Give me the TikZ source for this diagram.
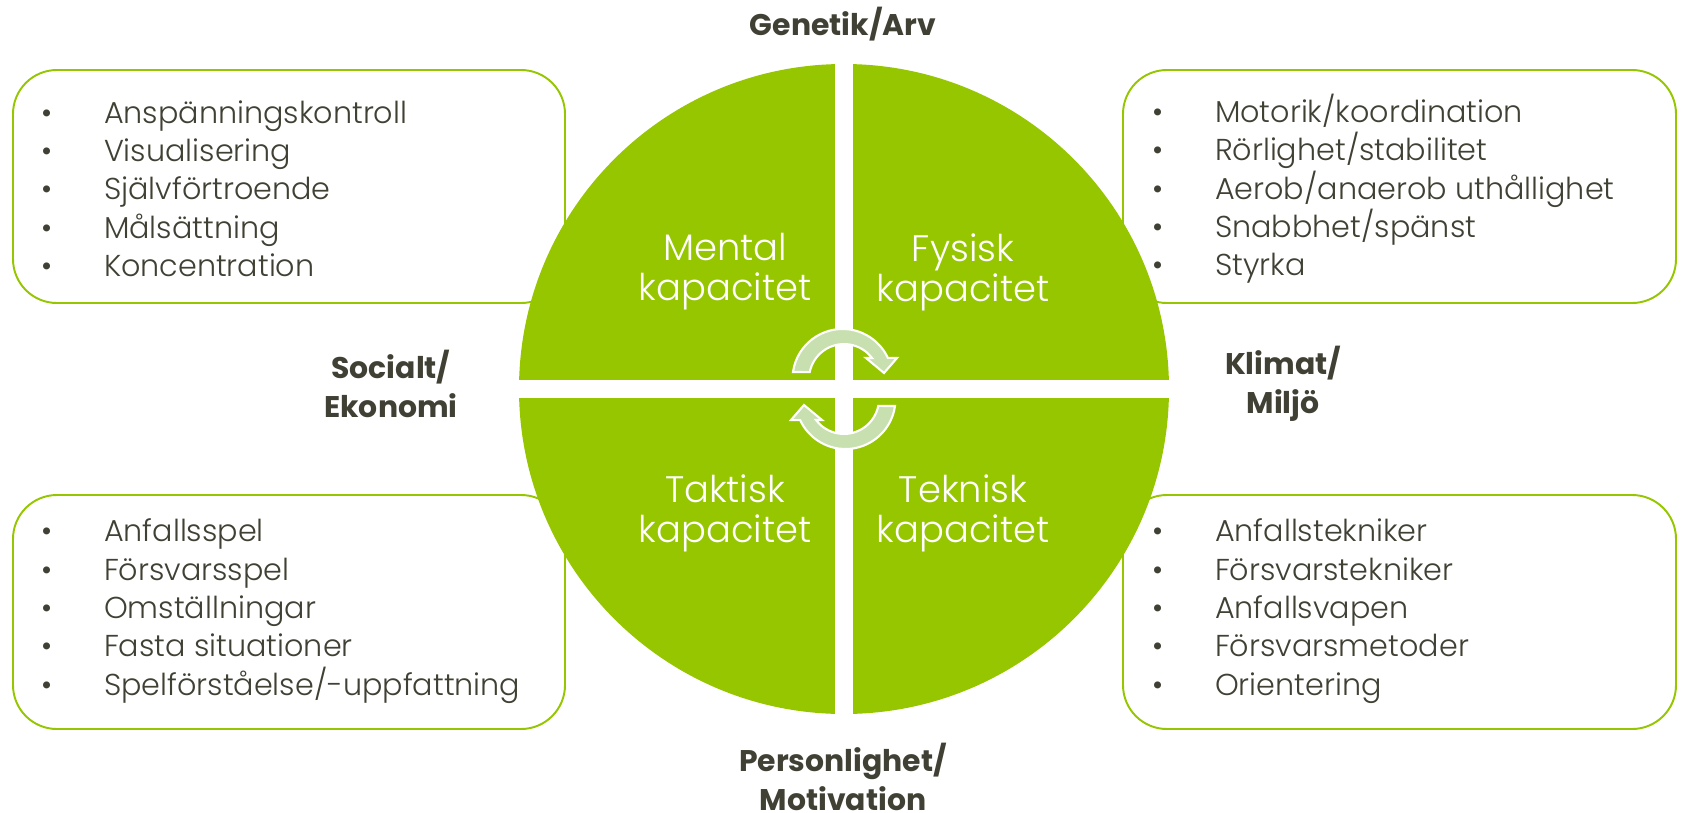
\documentclass[tikz,border=0pt]{standalone}
\usepackage{fontspec}
\setmainfont{Poppins}
\newfontfamily\lightfont{Poppins Light}
\setlength{\lineskiplimit}{-20pt}
\definecolor{kgreen}{RGB}{149,198,0}
\definecolor{kpale}{RGB}{200,224,176}
\definecolor{ktext}{RGB}{64,64,52}
\tikzset{
  listbox/.style={draw=kgreen, line width=1.1pt, fill=white, rounded corners=25pt},
  listtext/.style={anchor=west, align=left, inner sep=0pt, text=ktext, font=\lightfont\fontsize{17.2}{21.8}\selectfont},
  quadtext/.style={align=center, inner sep=0pt, text=white, font=\lightfont\fontsize{21}{22.7}\selectfont},
  factor/.style={align=center, inner sep=0pt, text=ktext, font=\bfseries\fontsize{17}{22.5}\selectfont},
  cyclearrow/.style={fill=kpale, draw=white, line width=1.2pt}
}
\newcommand{\itm}[1]{\makebox[35.7pt][l]{\textbullet}#1}
\begin{document}
\begin{tikzpicture}[x=0.02cm, y=-0.02cm]
  \useasboundingbox (0,0) rectangle (1681,812);
  % Boxes
  \draw[listbox] (13,70) rectangle (565,303);
  \draw[listbox] (1123,70) rectangle (1676,303);
  \draw[listbox] (13,495) rectangle (565,729);
  \draw[listbox] (1123,495) rectangle (1676,729);
  % Lists
  \node (mentallist) [listtext] at (41,188.7) {\itm{Anspänningskontroll}\\\itm{Visualisering}\\\itm{Självförtroende}\\\itm{Målsättning}\\\itm{Koncentration}};
  \node (fysisklist) [listtext] at (1152,188.7) {\itm{Motorik/koordination}\\\itm{Rörlighet/stabilitet}\\\itm{Aerob/anaerob uthållighet}\\\itm{Snabbhet/spänst}\\\itm{Styrka}};
  \node (taktisklist) [listtext] at (41,611) {\itm{Anfallsspel}\\\itm{Försvarsspel}\\\itm{Omställningar}\\\itm{Fasta situationer}\\\itm{Spelförståelse/-uppfattning}};
  \node (tekniklist) [listtext] at (1152,611) {\itm{Anfallstekniker}\\\itm{Försvarstekniker}\\\itm{Anfallsvapen}\\\itm{Försvarsmetoder}\\\itm{Orientering}};
  % Circle and gaps
  \fill[kgreen] (844,389) circle[radius=325];
  \fill[white] (835,55) rectangle (853,720);
  \fill[white] (510,380) rectangle (1178,398);
  % Quadrants
  \node (mental) [quadtext] at (725,272) {Mental\\kapacitet};
  \node (fysisk) [quadtext] at (963,272) {Fysisk\\kapacitet};
  \node (taktisk) [quadtext] at (725,513.5) {Taktisk\\kapacitet};
  \node (teknisk) [quadtext] at (963,513.5) {Teknisk\\kapacitet};
  % Cycle arrows
  \path[cyclearrow] (793,372) arc[start angle=-172, end angle=-25, radius=50]
    -- (897,358) -- (884,373) -- (866,358) -- (872,358)
    arc[start angle=-37, end angle=-168.5, radius=35] -- cycle;
  \begin{scope}[rotate around={180:(844,389)}]
    \path[cyclearrow] (793,372) arc[start angle=-172, end angle=-25, radius=50]
      -- (897,358) -- (884,373) -- (866,358) -- (872,358)
      arc[start angle=-37, end angle=-168.5, radius=35] -- cycle;
  \end{scope}
  % Factors
  \node (genetik) [factor] at (843,24) {Genetik/Arv};
  \node (socialt) [factor] at (391,384) {Socialt/\\Ekonomi};
  \node (klimat) [factor] at (1283,384) {Klimat/\\Miljö};
  \node (personlighet) [factor] at (843,777) {Personlighet/\\Motivation};
\end{tikzpicture}
\end{document}
